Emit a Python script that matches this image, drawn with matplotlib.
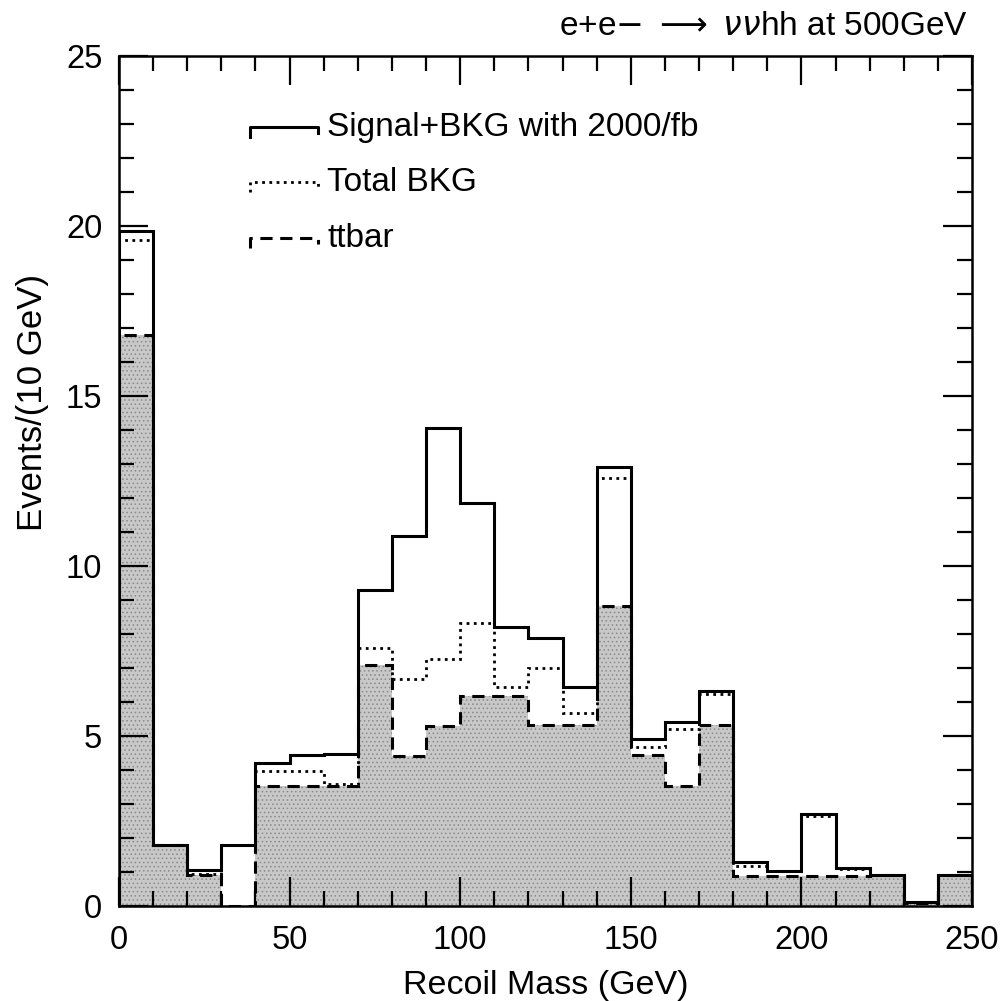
import numpy as np
import matplotlib
matplotlib.use("Agg")
import matplotlib.pyplot as plt

plt.rcParams['font.family'] = ['Liberation Sans', 'DejaVu Sans']
plt.rcParams['mathtext.fontset'] = 'dejavusans'
plt.rcParams['hatch.linewidth'] = 0.6

bin_edges = np.arange(0, 260, 10)
signal_plus_bkg = [19.85, 1.8, 1.06, 1.8, 4.2, 4.45, 4.47, 9.3, 10.87, 14.05,
                   11.86, 8.2, 7.88, 6.43, 12.9, 4.92, 5.4, 6.33, 1.28, 1.04,
                   2.7, 1.13, 0.91, 0.12, 0.91]
total_bkg = [19.6, 1.8, 0.95, 1.78, 3.96, 3.96, 3.6, 7.6, 6.67, 7.26,
             8.31, 6.45, 6.99, 5.69, 12.6, 4.68, 5.22, 6.25, 1.18, 1.02,
             2.65, 1.1, 0.91, 0.12, 0.91]
ttbar = [16.8, 1.78, 0.9, 0.0, 3.52, 3.52, 3.52, 7.09, 4.42, 5.3,
         6.19, 6.19, 5.32, 5.32, 8.83, 4.43, 3.54, 5.32, 0.88, 0.88,
         0.88, 0.88, 0.9, 0.1, 0.9]

legend_labels = ["Signal+BKG with 2000/fb", "Total BKG", "ttbar"]
x_ticks = [0, 50, 100, 150, 200, 250]
y_ticks = [0, 5, 10, 15, 20, 25]

fig = plt.figure(figsize=(10.06, 10.01), dpi=100)
ax = fig.add_axes([0.1183, 0.0949, 0.9662 - 0.1183, 0.944 - 0.0949])

# shaded ttbar
ax.stairs(ttbar, bin_edges, baseline=0, fill=True, facecolor='#c8c8c8',
          edgecolor='#8a8a8a', hatch='....', linewidth=0, zorder=1)
ax.stairs(ttbar, bin_edges, baseline=0, color='black', linewidth=2.2,
          linestyle=(0, (4, 2.5)), zorder=2)
ax.stairs(total_bkg, bin_edges, baseline=0, color='black', linewidth=2.0,
          linestyle=(0, (1, 1.6)), zorder=3)
ax.stairs(signal_plus_bkg, bin_edges, baseline=0, color='black', linewidth=2.2,
          zorder=4)

ax.set_xlim(0, 250)
ax.set_ylim(0, 25)
ax.set_xticks(x_ticks)
ax.set_yticks(y_ticks)
ax.set_xticks(np.arange(0, 251, 10), minor=True)
ax.set_yticks(np.arange(0, 26, 1), minor=True)
ax.tick_params(which='both', direction='in', top=True, right=True,
               width=1.6, labelsize=23.5)
ax.tick_params(axis='x', which='both', pad=14)
ax.tick_params(axis='y', which='both', pad=12)
ax.tick_params(which='major', length=21)
ax.tick_params(which='minor', length=11)
for s in ax.spines.values():
    s.set_linewidth(1.8)

ax.set_xlabel("Recoil Mass (GeV)", fontsize=24.5, labelpad=10)
ax.set_ylabel("Events/(10 GeV)", fontsize=25)
ax.yaxis.set_label_coords(-0.082, (906 - 402) / 850)

fig.text(0.962, 0.974, r"e+e$-$ $\longrightarrow$ $\nu\nu$hh at 500GeV",
         ha='right', va='center', fontsize=24)

# legend drawn manually
tr = ax.transAxes
x0, x1 = (250 - 119) / 853, (318 - 119) / 853
ys = [(906 - 127) / 850, (906 - 182) / 850, (906 - 238) / 850]
styles = [dict(linestyle='-', linewidth=2.2),
          dict(linestyle=(0, (1, 1.6)), linewidth=2.0),
          dict(linestyle=(0, (4, 2.5)), linewidth=2.2)]
drop = 10 / 850
for y, st, lab in zip(ys, styles, legend_labels):
    ax.plot([x0, x0, x1, x1], [y - drop, y, y, y - drop * 0.6], color='black',
            transform=tr, clip_on=False, **st)
    ax.text((327 - 119) / 853, y, lab, transform=tr, ha='left', va='center',
            fontsize=24)

fig.savefig("out.png", dpi=100)
